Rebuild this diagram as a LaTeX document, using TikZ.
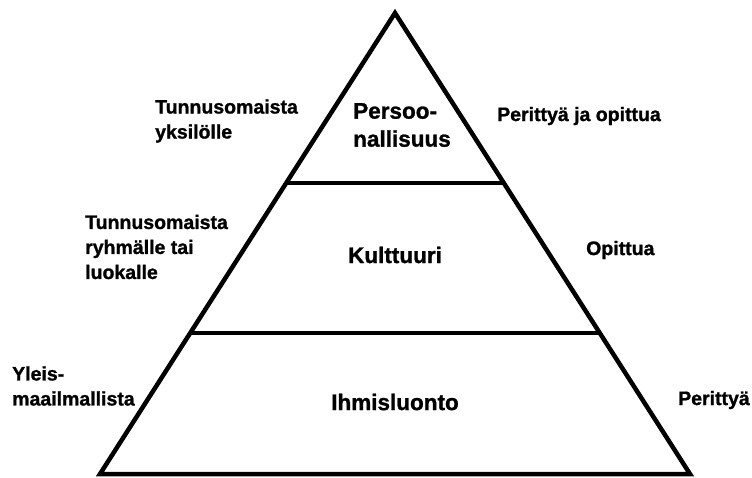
\documentclass[tikz,border=0pt]{standalone}
\usepackage{fontspec}
\setmainfont{Liberation Sans}[BoldFeatures={FakeBold=1.2}]
\usetikzlibrary{calc}

\begin{document}
\begin{tikzpicture}[x=1pt, y=-1pt,
    level/.style={font=\fontsize{22.5}{28}\selectfont\bfseries,
        align=left, inner sep=0pt},
    side/.style={font=\fontsize{19.5}{25}\selectfont\bfseries,
        align=left, anchor=west, inner sep=0pt},
    outline/.style={line width=4.5pt, line join=miter, line cap=butt}
]
    \useasboundingbox (0,0) rectangle (752,477);
    \coordinate (top) at (395,13);
    \coordinate (bl) at (100,474);
    \coordinate (br) at (690,474);
    \coordinate (l1) at ($(top)!0.3688!(bl)$);
    \coordinate (r1) at ($(top)!0.3688!(br)$);
    \coordinate (l2) at ($(top)!0.6941!(bl)$);
    \coordinate (r2) at ($(top)!0.6941!(br)$);
    \draw[outline] (top) -- (bl) -- (br) -- cycle;
    \draw[outline] (l1) -- (r1);
    \draw[outline] (l2) -- (r2);
    % levels
    \node[level] (persoona) at (402,125) {Persoo-\\nallisuus};
    \node[level] (kulttuuri) at (395,255) {Kulttuuri};
    \node[level] (luonto) at (395,402) {Ihmisluonto};
    % left side
    \node[side] (yksilo) at (155,121) {Tunnusomaista\\yksilölle};
    \node[side] (ryhma) at (85,247) {Tunnusomaista\\ryhmälle tai\\luokalle};
    \node[side] (yleis) at (12,386) {Yleis-\\maailmallista};
    % right side
    \node[side] (molemmat) at (497,116) {Perittyä ja opittua};
    \node[side] (opittu) at (586,250) {Opittua};
    \node[side] (peritty) at (678,400) {Perittyä};
\end{tikzpicture}
\end{document}
